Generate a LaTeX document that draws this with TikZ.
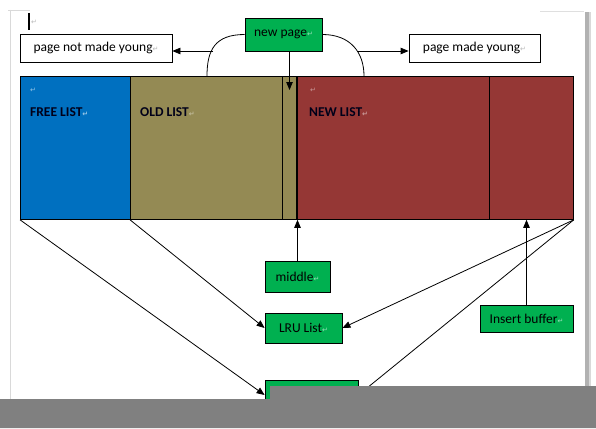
\documentclass[tikz,border=0pt]{standalone}
\usepackage{fontspec}
\setmainfont{Carlito}
\newfontfamily\djv{DejaVu Sans}
\usetikzlibrary{arrows.meta,calc}
\definecolor{freeblue}{HTML}{0070C0}
\definecolor{oldolive}{HTML}{948A54}
\definecolor{newred}{HTML}{953735}
\definecolor{wordgreen}{HTML}{00B050}
\definecolor{graybar}{HTML}{808080}
\newcommand{\parmark}[1][gray!55]{{\color{#1}\djv\fontsize{7}{7}\selectfont ↵}}
\begin{document}
\begin{tikzpicture}[x=1pt,y=-1pt,font=\fontsize{13.5}{16}\selectfont]
\tikzset{
  lst/.style={draw=black,line width=0.8pt,minimum height=143pt,inner sep=0pt,anchor=north west},
  gbox/.style={draw=black,line width=0.8pt,fill=wordgreen,inner sep=0pt},
  wbox/.style={draw=black,line width=0.8pt,fill=white,inner sep=0pt},
  lbl/.style={font=\fontsize{13.5}{16}\selectfont\bfseries,inner sep=0pt,anchor=west,text=black!90!blue},
  arr/.style={-{Triangle[length=8pt,width=6.5pt]},line width=0.8pt},
  conn/.style={line width=0.8pt}
}
\useasboundingbox (0,0) rectangle (596,428);
\fill[white] (0,0) rectangle (596,428);
% page frame
\draw[gray!30,line width=1pt] (10.5,10) -- (10.5,399);
\draw[gray!30,line width=1pt] (8,10.5) -- (30,10.5);
\draw[gray!25,line width=0.8pt] (540,11.5) -- (584,11.5);
\fill[gray!60] (585,12) rectangle (589,386);
\fill[gray!30] (589,12) rectangle (591,386);
% cursor
\draw[line width=1.6pt] (29,13) -- (29,30);
\node[inner sep=0pt] (cursorpm) at (34,22) {\parmark};
% list rectangles
\node[lst,fill=freeblue,minimum width=110pt] (free) at (20,76) {};
\node[lst,fill=oldolive,minimum width=152pt] (old) at (130,76) {};
\node[lst,fill=oldolive,minimum width=15pt] (strip) at (282,76) {};
\node[lst,fill=newred,minimum width=192pt] (new) at (297,76) {};
\node[lst,fill=newred,minimum width=84pt] (newb) at (489,76) {};
\draw[line width=1.4pt] (new.north west) -- (new.south west);
% labels
\node[inner sep=0pt] (freepm) at (33,90) {\parmark[white!60!freeblue]};
\node[lbl] (freelbl) at (30,112) {FREE LIST\parmark[white!60!freeblue]};
\node[lbl] (oldlbl) at (140,112) {OLD LIST\parmark[white!40!oldolive]};
\node[inner sep=0pt] (newpm) at (313,90) {\parmark[white!50!newred]};
\node[lbl] (newlbl) at (309,112) {NEW LIST\parmark[white!50!newred]};
% top boxes
\node[gbox,minimum width=77pt,minimum height=33pt] (np) at (283.5,34.5) {new page\parmark[white!60!wordgreen]};
\node[wbox,minimum width=152pt,minimum height=28pt] (pnmy) at (96,48) {page not made young\parmark};
\node[wbox,minimum width=131pt,minimum height=28pt] (pmy) at (474.5,48) {page made young\parmark};
% lower boxes
\node[gbox,minimum width=65pt,minimum height=31pt] (mid) at (297.5,276.5) {middle\parmark[white!60!wordgreen]};
\node[gbox,minimum width=77pt,minimum height=30pt] (lru) at (303.5,328) {LRU List\parmark[white!60!wordgreen]};
\node[gbox,minimum width=93pt,minimum height=27pt] (ins) at (526.5,318.5) {Insert buffer\parmark[white!60!wordgreen]};
\node[gbox,minimum width=93pt,minimum height=30pt] (bot) at (311.5,395) {};
% arcs
\coordinate (lend) at (207,76);
\coordinate (rend) at (364,76);
\coordinate (la) at (213,51);
\coordinate (ra) at (357,51);
\coordinate (npt) at (289.5,90);
\draw[conn] (np.west) .. controls (215,34.5) and (207,50) .. (lend);
\draw[conn] (np.east) .. controls (350,34.5) and (364,52) .. (rend);
\draw[arr] (la) -- (la -| pnmy.east);
\draw[arr] (ra) -- (ra -| pmy.west);
\draw[arr] (np.south -| npt) -- (npt);
% lower arrows
\draw[arr] (mid.north) -- (mid.north |- new.south);
\draw[arr] (ins.north) -- (ins.north |- newb.south);
\draw[arr] (old.south west) -- (lru.west);
\draw[arr] (newb.south east) -- (lru.east);
\draw[arr] (free.south west) -- (bot.west);
\draw[arr] (newb.south east) -- (bot.east);
% gray overlay
\fill[graybar] (0,399) -- (270,399) -- (270,386) -- (596,386) -- (596,428) -- (0,428) -- cycle;
\end{tikzpicture}
\end{document}
